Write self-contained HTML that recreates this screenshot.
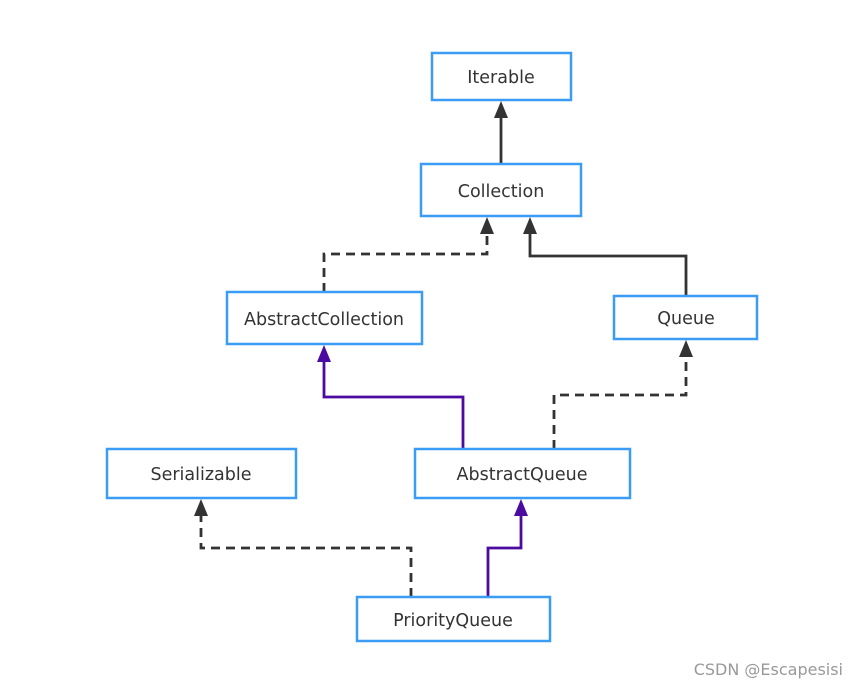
<!DOCTYPE html>
<html><head><style>
html,body{margin:0;padding:0;background:#fff;}
svg{display:block}
text{font-family:"DejaVu Sans","Liberation Sans",sans-serif;font-size:17.5px;fill:#333;}
</style></head><body>
<svg width="857" height="692" viewBox="0 0 857 692">
<g fill="none" stroke-width="2.8">
<path d="M501,164 V114" stroke="#333"/>
<path d="M324,292 V254 H487 V230" stroke="#333" stroke-dasharray="9,6"/>
<path d="M686,296 V256 H530 V230" stroke="#333"/>
<path d="M463,449 V397 H324 V358" stroke="#4b0aa0"/>
<path d="M554,449 V395 H686 V353" stroke="#333" stroke-dasharray="9,6"/>
<path d="M411,597 V548 H201 V512" stroke="#333" stroke-dasharray="9,6"/>
<path d="M488,597 V548 H521 V512" stroke="#4b0aa0"/>
</g>
<g fill="#333">
<polygon points="501,101 494,118 508,118"/>
<polygon points="487,217 480,234 494,234"/>
<polygon points="530,217 523,234 537,234"/>
<polygon points="686,340 679,357 693,357"/>
<polygon points="201,499 194,516 208,516"/>
</g>
<g fill="#4b0aa0">
<polygon points="324,345 317,362 331,362"/>
<polygon points="521,499 514,516 528,516"/>
</g>
<g fill="#fff" stroke="#3b9cf5" stroke-width="2.5">
<rect x="432" y="53" width="139" height="47"/>
<rect x="421" y="164" width="160" height="52"/>
<rect x="227" y="292" width="195" height="52"/>
<rect x="614" y="296" width="143" height="43"/>
<rect x="107" y="449" width="189" height="49"/>
<rect x="415" y="449" width="215" height="49"/>
<rect x="357" y="597" width="193" height="44"/>
</g>
<g text-anchor="middle">
<text x="501" y="83">Iterable</text>
<text x="501" y="197">Collection</text>
<text x="324" y="325">AbstractCollection</text>
<text x="686" y="324">Queue</text>
<text x="201" y="480">Serializable</text>
<text x="522" y="480">AbstractQueue</text>
<text x="453" y="626">PriorityQueue</text>
</g>
<text x="843" y="675" text-anchor="end" style="fill:#999;font-size:16px">CSDN @Escapesisi</text>
</svg>
</body></html>
